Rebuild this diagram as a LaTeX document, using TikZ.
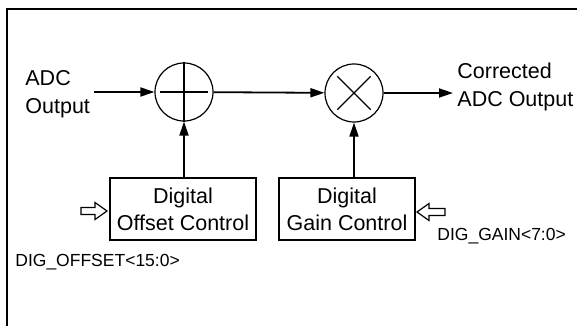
\documentclass[tikz,border=0pt]{standalone}
\usepackage{fontspec}
\setmainfont{Liberation Sans}
\usetikzlibrary{arrows.meta,calc,positioning}

\begin{document}
\begin{tikzpicture}[x=0.5pt,y=-0.5pt,
  txt/.style={font=\fontsize{10.75}{14}\selectfont,align=left,inner sep=2pt},
  lbl/.style={font=\fontsize{8.75}{11}\selectfont,inner sep=2pt},
  op/.style={draw,circle,line width=0.6pt,minimum size=29pt,inner sep=0pt},
  blk/.style={draw,line width=1pt,font=\fontsize{10.75}{13.5}\selectfont,align=center,minimum height=31pt,inner sep=0pt},
  sig/.style={line width=0.9pt,-{Triangle[length=7pt,width=4.5pt]}},
  hollow/.style={draw,line width=0.6pt,fill=white,line join=miter}]
  \useasboundingbox (0,0) rectangle (577,326);
  \draw[line width=1pt] (7,326) -- (7,9) -- (577,9);
  % adder and multiplier
  \node[op] (sum) at (184,92) {};
  \node[op] (mul) at (354,93) {};
  \draw[line width=0.7pt] (sum.north) -- (sum.south) ($(sum.west)+(6,0)$) -- ($(sum.east)+(-6,0)$);
  \draw[line width=0.6pt] ($(mul)!0.8!(mul.45)$) -- ($(mul)!0.8!(mul.225)$)
    ($(mul)!0.8!(mul.135)$) -- ($(mul)!0.8!(mul.-45)$);
  % signal path
  \node[txt,anchor=west] (in) at (21,94) {ADC\\Output};
  \node[txt,anchor=west] (out) at (453,87) {Corrected\\ADC Output};
  \draw[sig] (in.east |- sum) -- (sum);
  \draw[sig] (sum) -- (mul);
  \draw[sig] (mul) -- (mul -| out.west);
  % control blocks
  \node[blk,minimum width=73pt] (offset) at (183,209) {Digital\\Offset Control};
  \node[blk,minimum width=68pt] (gain) at (347,209) {Digital\\Gain Control};
  \draw[sig] (offset.north -| sum) -- (sum);
  \draw[sig] (gain.north -| mul) -- (mul);
  % register inputs
  \coordinate (offin) at ($(offset.west)+(-2,2)$);
  \coordinate (gainin) at ($(gain.east)+(1,3)$);
  \draw[hollow] (offin) -- ++(-12,-8.5) -- ++(0,5) -- ++(-14,0) -- ++(0,7) -- ++(14,0) -- ++(0,5) -- cycle;
  \draw[hollow] (gainin) -- ++(12,-8.5) -- ++(0,5) -- ++(16,0) -- ++(0,7) -- ++(-16,0) -- ++(0,5) -- cycle;
  \node[lbl,anchor=west] (offlbl) at (11,262) {DIG\_OFFSET<15:0>};
  \node[lbl,anchor=west] (gainlbl) at (433,236) {DIG\_GAIN<7:0>};
\end{tikzpicture}
\end{document}
